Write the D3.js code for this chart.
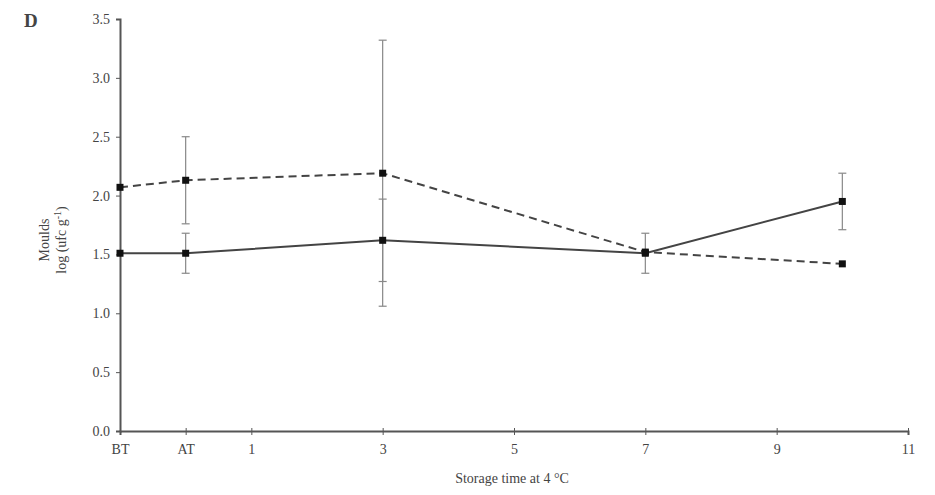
<!DOCTYPE html>
<html>
<head>
<meta charset="utf-8">
<script src="https://cdn.jsdelivr.net/npm/d3@7"></script>
<style>
  body { margin: 0; background: #fff; }
  text { font-family: "Liberation Serif", "DejaVu Serif", serif; fill: #444; }
</style>
</head>
<body>
<svg id="chart" width="935" height="495"></svg>
<script>
// x positions: BT = -1, AT = 0, then days
const days = [-1, 0, 3, 7, 10];
const xTicks = [-1, 0, 1, 3, 5, 7, 9, 11];
const xTickLabels = ["BT", "AT", "1", "3", "5", "7", "9", "11"];
const yTicks = [0, 0.5, 1.0, 1.5, 2.0, 2.5, 3.0, 3.5];

const solidMeans = [1.51, 1.51, 1.62, 1.51, 1.95];
const solidErr = [0, 0.17, 0.35, 0.17, 0.24];
const dashedMeans = [2.07, 2.13, 2.19, 1.52, 1.42];
const dashedErr = [0, 0.37, 1.13, 0, 0];

const margin = { top: 19, left: 120, right: 27, bottom: 64 };
const width = 935 - margin.left - margin.right;
const height = 495 - margin.top - margin.bottom;

const svg = d3.select("#chart");
const g = svg.append("g")
  .attr("transform", "translate(" + margin.left + "," + margin.top + ")");

const x = d3.scaleLinear().domain([-1, 11]).range([0, width]);
const y = d3.scaleLinear().domain([0, 3.5]).range([height, 0]);

// axes
const xAxis = g.append("g")
  .attr("transform", "translate(0," + height + ")")
  .call(d3.axisBottom(x).tickValues(xTicks)
    .tickFormat((d, i) => xTickLabels[i]).tickSize(4).tickPadding(9));
xAxis.select(".domain").attr("stroke", "#555").attr("stroke-width", 2);
xAxis.selectAll(".tick line").attr("stroke", "#555").attr("y1", -3);
xAxis.selectAll("text").attr("font-size", 14).attr("fill", "#444")
  .attr("font-family", "Liberation Serif, serif");

const yAxis = g.append("g")
  .call(d3.axisLeft(y).tickValues(yTicks).tickFormat(d3.format(".1f")).tickSize(4).tickPadding(6));
yAxis.select(".domain").attr("stroke", "#555").attr("stroke-width", 2);
yAxis.selectAll(".tick line").attr("stroke", "#555");
yAxis.selectAll("text").attr("font-size", 14).attr("fill", "#444")
  .attr("font-family", "Liberation Serif, serif");

// error bars
function errorBars(means, errs) {
  const rows = days.map((d, i) => ({ d: d, m: means[i], e: errs[i] })).filter(r => r.e > 0);
  const eg = g.append("g").attr("stroke", "#888").attr("stroke-width", 1.2);
  eg.selectAll("line.v").data(rows).enter().append("line")
    .attr("x1", r => x(r.d)).attr("x2", r => x(r.d))
    .attr("y1", r => y(r.m - r.e)).attr("y2", r => y(r.m + r.e));
  eg.selectAll("line.t").data(rows).enter().append("line")
    .attr("x1", r => x(r.d) - 4).attr("x2", r => x(r.d) + 4)
    .attr("y1", r => y(r.m + r.e)).attr("y2", r => y(r.m + r.e));
  eg.selectAll("line.b").data(rows).enter().append("line")
    .attr("x1", r => x(r.d) - 4).attr("x2", r => x(r.d) + 4)
    .attr("y1", r => y(r.m - r.e)).attr("y2", r => y(r.m - r.e));
}
errorBars(dashedMeans, dashedErr);
errorBars(solidMeans, solidErr);

const line = d3.line().x((d, i) => x(days[i])).y(d => y(d));

g.append("path").datum(dashedMeans)
  .attr("d", line).attr("fill", "none")
  .attr("stroke", "#444").attr("stroke-width", 2)
  .attr("stroke-dasharray", "8,5");

g.append("path").datum(solidMeans)
  .attr("d", line).attr("fill", "none")
  .attr("stroke", "#444").attr("stroke-width", 2);

function markers(means) {
  g.selectAll(null).data(means).enter().append("rect")
    .attr("x", (d, i) => x(days[i]) - 3.5)
    .attr("y", d => y(d) - 3.5)
    .attr("width", 7).attr("height", 7)
    .attr("fill", "#111");
}
markers(dashedMeans);
markers(solidMeans);

// labels
svg.append("text").attr("x", 24).attr("y", 27)
  .attr("font-size", 19).attr("font-weight", "bold").attr("fill", "#222").text("D");

svg.append("text")
  .attr("x", margin.left + width / 2 - 2).attr("y", 483)
  .attr("text-anchor", "middle").attr("font-size", 14)
  .text("Storage time at 4 °C");

const yl = svg.append("text")
  .attr("transform", "translate(49,240) rotate(-90)")
  .attr("text-anchor", "middle").attr("font-size", 14);
yl.append("tspan").attr("x", 0).attr("dy", 0).text("Moulds");
const yl2 = yl.append("tspan").attr("x", 0).attr("dy", 17);
yl2.text("log (ufc g");
yl.append("tspan").attr("dy", -5).attr("font-size", 10).text("-1");
yl.append("tspan").attr("dy", 5).text(")");
</script>
</body>
</html>
